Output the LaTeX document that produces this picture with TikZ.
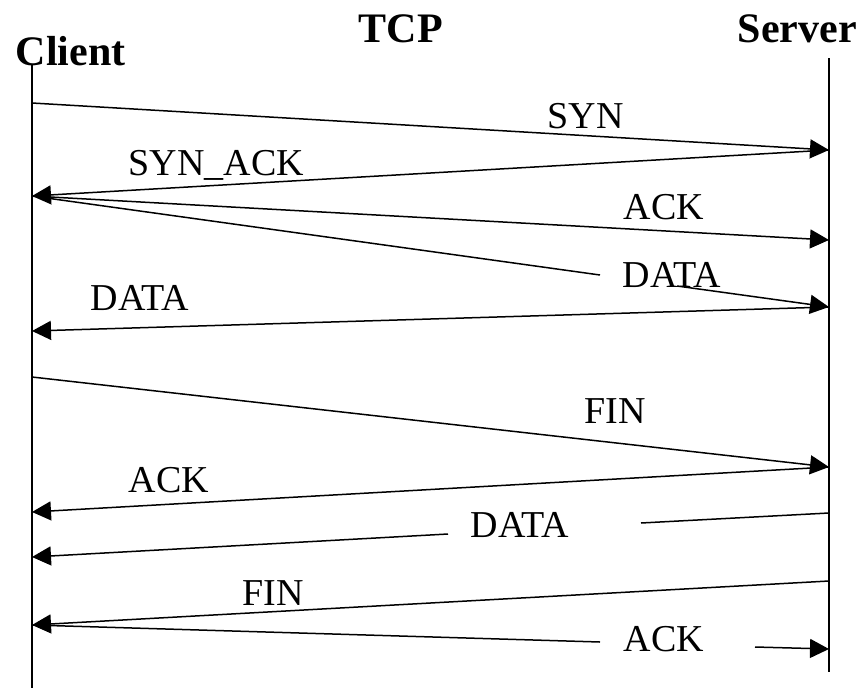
\documentclass[tikz,border=0pt]{standalone}
\usepackage{fontspec}
\setmainfont{Liberation Serif}
\usetikzlibrary{arrows.meta}
\tikzstyle{msg} = [draw=none, inner sep=0pt, anchor=base west, font=\fontsize{38}{45}\selectfont]
\tikzstyle{role} = [draw=none, inner sep=0pt, anchor=base west, font=\fontsize{42}{50}\selectfont\bfseries]
\tikzstyle{life} = [-]

\begin{document}
\begin{tikzpicture}[x=1pt,y=-1pt,->,>={Triangle[length=19pt,width=19pt]},line width=1.5pt]
  \useasboundingbox (0,0) rectangle (859,688);

  % lifelines
  \node[role] (client) at (15,65) {Client};
  \node[role] (tcp) at (358,42) {TCP};
  \node[role] (server) at (737,42) {Server};
  \coordinate (ct) at (32,65);
  \coordinate (cb) at (32,688);
  \coordinate (st) at (829,58);
  \coordinate (sb) at (829,672);
  \draw[life] (ct) -- (cb);
  \draw[life] (st) -- (sb);

  % points on the client side
  \coordinate (c1) at (32,103);
  \coordinate (c2) at (32,196);
  \coordinate (c3) at (32,331);
  \coordinate (c4) at (32,377);
  \coordinate (c5) at (32,512);
  \coordinate (c6) at (32,557);
  \coordinate (c7) at (32,625);
  % points on the server side
  \coordinate (s1) at (829,150);
  \coordinate (s2) at (829,240);
  \coordinate (s3) at (829,307);
  \coordinate (s4) at (829,467);
  \coordinate (s5) at (829,513);
  \coordinate (s6) at (829,581);
  \coordinate (s7) at (829,649);
  % gaps left for labels
  \coordinate (g1) at (600,275);
  \coordinate (g2) at (677,286);
  \coordinate (g3) at (641,523);
  \coordinate (g4) at (448,534);
  \coordinate (g5) at (600,642);
  \coordinate (g6) at (755,647);

  \node[msg] (syn) at (547,128) {SYN};
  \node[msg] (synack) at (128,175) {SYN\_ACK};
  \node[msg] (ack1) at (623,219) {ACK};
  \node[msg] (data1) at (622,287) {DATA};
  \node[msg] (data2) at (90,310) {DATA};
  \node[msg] (fin1) at (584,423) {FIN};
  \node[msg] (ack2) at (128,492) {ACK};
  \node[msg] (data3) at (470,537) {DATA};
  \node[msg] (fin2) at (242,605) {FIN};
  \node[msg] (ack3) at (623,651) {ACK};

  \path
    (c1) edge (s1)
    (s1) edge (c2)
    (c2) edge (s2)
         edge [life] (g1)
    (g2) edge (s3)
    (s3) edge (c3)
    (c4) edge (s4)
    (s4) edge (c5)
    (s5) edge [life] (g3)
    (g4) edge (c6)
    (s6) edge (c7)
    (c7) edge [life] (g5)
    (g6) edge (s7);

\end{tikzpicture}
\end{document}
